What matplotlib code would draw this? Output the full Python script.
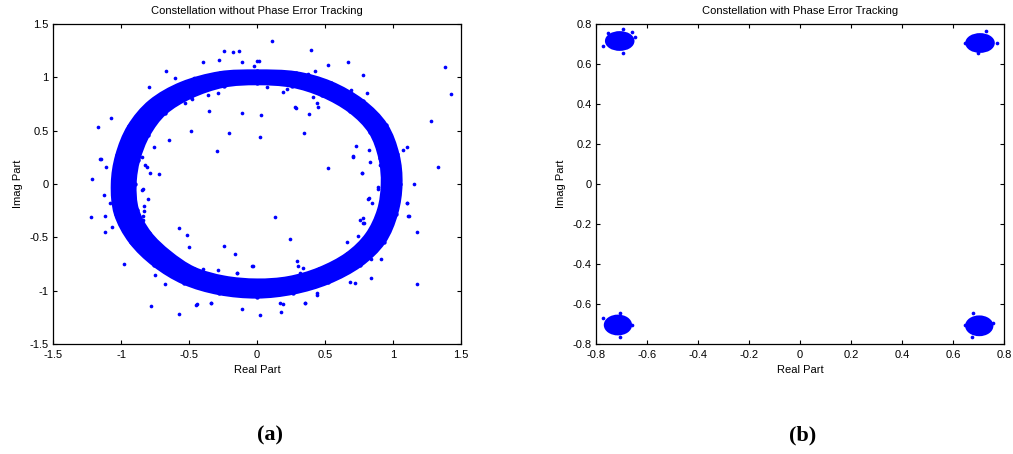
import numpy as np
import matplotlib
matplotlib.use("Agg")
import matplotlib.pyplot as plt
from matplotlib.path import Path
from matplotlib.patches import PathPatch, Ellipse
from matplotlib.ticker import FuncFormatter

# ---------------- data: panel (a) ----------------
# ring centre line (every 15 degrees)
ring_x = [0.99, 0.97, 0.89, 0.73, 0.51, 0.27, 0.00, -0.26, -0.52, -0.73, -0.87, -0.95,
          -0.98, -0.96, -0.86, -0.70, -0.50, -0.26, 0.00, 0.25, 0.49, 0.71, 0.87, 0.96]
ring_y = [0.00, 0.26, 0.52, 0.73, 0.89, 0.98, 1.00, 0.98, 0.88, 0.72, 0.50, 0.25,
          0.00, -0.26, -0.50, -0.70, -0.86, -0.95, -0.98, -0.95, -0.86, -0.71, -0.51, -0.26]
# full spread of the dense band at each centre point
ring_spread = [0.13, 0.13, 0.13, 0.13, 0.13, 0.12, 0.11, 0.12, 0.14, 0.15, 0.16, 0.16,
               0.16, 0.16, 0.16, 0.16, 0.15, 0.15, 0.15, 0.14, 0.14, 0.14, 0.14, 0.13]

# scattered points outside the dense band
pts_a_x = [0.108, 0.395, -0.24, -0.174, -0.13, 0.52, 0.667, -0.395, -0.277, -0.108, 0.0,
           -0.67, 0.777, 0.809, 0.694, -0.794, -0.603, 0.74, 0.382, 0.45, 0.287, -0.108,
           0.029, -0.35, -0.485, -0.208, 0.024, 0.348, -0.294, -0.647, 0.522, 0.772,
           1.157, 1.105, 1.277, 1.33, 1.385, 1.43, -1.167, -1.07, -1.149, -1.215, -1.125,
           -1.218, -1.12, -0.718, -0.824, -0.76, -0.848, -0.84, 0.708, 0.826, 0.726,
           0.132, 0.245, -0.576, -0.517, -0.5, -0.24, -0.162, -0.035, -0.289, -0.147,
           0.296, 0.336, -0.976, -0.779, -0.576, -0.446, -0.336, -0.108, 0.024, 0.176,
           0.193, 0.355, 0.439, 1.174, 1.179, 1.12, 1.1, 0.838, 0.836, 0.912, 0.682,
           0.718, -0.674, -0.748, -0.838, -0.831, 0.76, 0.789, 0.66, 0.74, 0.887, 0.82,
           -0.022, 0.017, -0.463, -0.285, -0.358, -0.476, 0.071, 0.193, 0.218, 0.279,
           0.377, 0.426, 0.414, 0.439, -0.529, -0.032, -0.149, -0.395, -0.443, -0.338,
           0.169, 0.353, 0.299, 0.316, 0.439, -1.154, -1.11, -1.118, -1.064, -0.811,
           -0.787, -0.843, -0.799, -0.829, -0.836, -1.081, 0.708, 0.77, 0.818, 0.843,
           0.777, 0.777, 1.101, 1.113, 1.076, 0.904, 0.892, 0.929, 0.831]
pts_a_y = [1.34, 1.26, 1.25, 1.24, 1.245, 1.12, 1.14, 1.144, 1.16, 1.14, 1.15,
           1.06, 1.02, 0.853, 0.88, 0.906, 0.994, 0.775, 0.654, 0.72, 0.716, 0.669,
           0.65, 0.68, 0.5, 0.475, 0.443, 0.475, 0.31, 0.413, 0.153, 0.1,
           0.003, 0.35, 0.59, 0.163, 1.1, 0.847, 0.532, 0.619, 0.232, 0.047, -0.1,
           -0.306, -0.446, 0.09, 0.18, 0.35, 0.257, -0.05, 0.257, 0.32, 0.36,
           -0.306, -0.518, -0.409, -0.48, -0.587, -0.578, -0.653, -0.765, -0.806, -0.837,
           -0.718, -0.787, -0.746, -1.143, -1.215, -1.13, -1.118, -1.168, -1.224, -1.196,
           -1.127, -1.118, -1.04, -0.446, -0.94, -0.3, -0.18, -0.88, -0.703, -0.703, -0.915,
           -0.93, -0.94, -0.85, -0.296, -0.209, -0.334, -0.368, -0.543, -0.484, -0.05, -0.134,
           1.106, 1.156, 0.994, 0.856, 0.835, 0.797, 0.907, 0.866, 0.888, 0.72,
           1.03, 1.06, 0.819, 0.757, 0.757, -0.765, -0.837, -0.8, -1.127, -1.112,
           -1.118, -1.118, -0.768, -0.837, -1.024, 0.232, 0.163, -0.297, -0.405, 0.163,
           0.1, -0.056, -0.143, -0.255, -0.337, -0.18, 0.266, 0.1, -0.143, -0.18,
           -0.315, -0.368, -0.175, -0.3, 0.319, 0.178, -0.025, -0.056, 0.21]

# ---------------- data: panel (b) ----------------
clu_x = [-0.707, 0.706, -0.714, 0.703]
clu_y = [0.715, 0.705, -0.705, -0.709]
clu_wx = [0.105, 0.105, 0.100, 0.100]
clu_wy = [0.085, 0.085, 0.090, 0.090]
pts_b_x = [-0.771, -0.695, -0.66, -0.647, -0.693, -0.752,
           0.647, 0.731, 0.771, 0.699,
           -0.771, -0.706, -0.66, -0.706,
           0.647, 0.68, 0.758, 0.673]
pts_b_y = [0.69, 0.773, 0.762, 0.733, 0.653, 0.753,
           0.707, 0.767, 0.703, 0.653,
           -0.672, -0.647, -0.705, -0.763,
           -0.705, -0.647, -0.697, -0.767]

a_xticks = [-1.5, -1, -0.5, 0, 0.5, 1, 1.5]
a_yticks = [-1.5, -1, -0.5, 0, 0.5, 1, 1.5]
b_ticks = [-0.8, -0.6, -0.4, -0.2, 0, 0.2, 0.4, 0.6, 0.8]

# ---------------- drawing ----------------
plt.rcParams['font.family'] = ['Liberation Sans', 'DejaVu Sans']
BLUE = '#0000ff'
W, H = 1013, 454
fig = plt.figure(figsize=(W / 100, H / 100), dpi=100)
axA = fig.add_axes([53 / W, (H - 344) / H, 408 / W, 320 / H])
axB = fig.add_axes([596 / W, (H - 344) / H, 408 / W, 320 / H])

fmt = FuncFormatter(lambda v, p: '%g' % v)


def style(ax, xt, yt, title):
    ax.set_xticks(xt)
    ax.set_yticks(yt)
    ax.set_xlim(xt[0], xt[-1])
    ax.set_ylim(yt[0], yt[-1])
    ax.xaxis.set_major_formatter(fmt)
    ax.yaxis.set_major_formatter(fmt)
    ax.tick_params(direction='in', length=3, width=0.8, top=True, right=True,
                   labelsize=8, colors='black', pad=3)
    ax.tick_params(axis='x', pad=4)
    for s in ax.spines.values():
        s.set_linewidth(0.9)
    ax.set_title(title, fontsize=8, pad=7)
    ax.set_xlabel('Real Part', fontsize=8, labelpad=4)
    ax.set_ylabel('Imag Part', fontsize=8, labelpad=5)


def smooth_closed(pts):
    """Closed Bezier path through the given vertices (rendering only)."""
    n = len(pts)
    verts = [pts[0]]
    codes = [Path.MOVETO]
    for i in range(n):
        p0, p1, p2, p3 = pts[i - 1], pts[i], pts[(i + 1) % n], pts[(i + 2) % n]
        c1 = p1 + (p2 - p0) / 6.0
        c2 = p2 - (p3 - p1) / 6.0
        verts += [c1, c2, p2]
        codes += [Path.CURVE4] * 3
    return verts, codes


# panel (a): dense band as ring between outer and inner edges
cx = np.array(ring_x)
cy = np.array(ring_y)
sp = np.array(ring_spread)
r = np.hypot(cx, cy)
nx, ny = cx / r, cy / r
outer = np.column_stack([cx + nx * sp / 2, cy + ny * sp / 2])
inner = np.column_stack([cx - nx * sp / 2, cy - ny * sp / 2])[::-1]
v1, c1 = smooth_closed(outer)
v2, c2 = smooth_closed(inner)
axA.add_patch(PathPatch(Path(np.array(v1 + v2), c1 + c2), facecolor=BLUE,
                        edgecolor=BLUE, lw=3.0, joinstyle='round'))
# ragged edges: dots on band edges
axA.scatter(np.r_[outer[:, 0], inner[:, 0]], np.r_[outer[:, 1], inner[:, 1]],
            s=10, c=BLUE, linewidths=0)
axA.scatter(pts_a_x, pts_a_y, s=7, c=BLUE, linewidths=0)
style(axA, a_xticks, a_yticks, 'Constellation without Phase Error Tracking')

# panel (b): clusters
for x, y, wx, wy in zip(clu_x, clu_y, clu_wx, clu_wy):
    axB.add_patch(Ellipse((x, y), wx, wy, facecolor=BLUE, edgecolor=BLUE, lw=2))
axB.scatter(pts_b_x, pts_b_y, s=7, c=BLUE, linewidths=0)
style(axB, b_ticks, b_ticks, 'Constellation with Phase Error Tracking')

fig.text(270 / W, 1 - 435 / H, '(a)', fontsize=16, fontweight='bold',
         family='Liberation Serif', ha='center', va='center')
fig.text(803 / W, 1 - 435 / H, '(b)', fontsize=16, fontweight='bold',
         family='Liberation Serif', ha='center', va='center')

fig.savefig('out.png', dpi=100)
